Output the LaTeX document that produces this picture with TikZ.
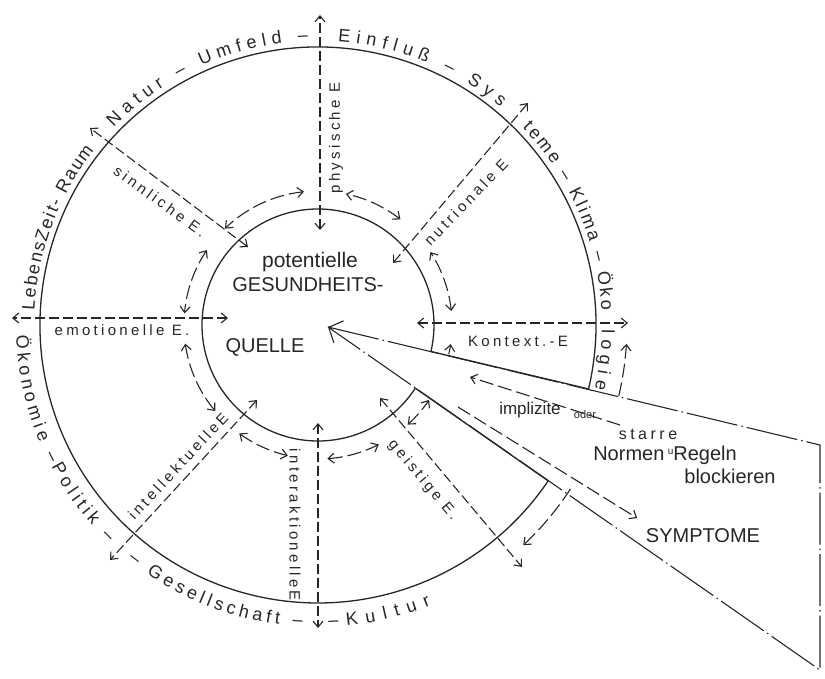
\documentclass[tikz,border=0pt]{standalone}
\usepackage{fontspec}
\setmainfont{Liberation Sans}
\newfontfamily\handfont[LetterSpace=22]{Liberation Sans}
\usetikzlibrary{arrows.meta,decorations.text,calc}
\definecolor{ink}{HTML}{262626}
\newcommand\ringfont{\fontsize{18}{18}\selectfont}

\tikzset{
  barb/.tip={Straight Barb[length=6pt,width=10pt]},
  ring/.style={draw=ink, line width=1.3pt},
  spoke/.style={draw=ink, line width=1.1pt, dash pattern=on 10pt off 4pt, barb-barb},
  flow/.style={draw=ink, line width=1.1pt, dash pattern=on 14pt off 5pt},
  block/.style={draw=ink, line width=1.1pt, dash pattern=on 52pt off 4pt on 1.5pt off 4pt},
  lbl/.style={font=\handfont\fontsize{15}{15}\selectfont, text=ink, inner sep=1pt},
  say/.style={font=\fontsize{20}{20}\selectfont, text=ink, inner sep=1pt},
  ringtext/.style={decorate, decoration={text along path, text align={fit to path}, text color=ink}},
}

\begin{document}
\begin{tikzpicture}[x=1pt,y=1pt]
  \useasboundingbox (-318,-353) rectangle (507,325);

  % circles, open where the wedge cuts through
  \draw[ring] (-13.2:116) arc[start angle=-13.2, end angle=327, radius=116];
  \draw[ring] (-13.3:278) arc[start angle=-13.3, end angle=325.9, radius=278];
  \draw[ring] (-13.2:116) -- (-13.3:278);
  \draw[ring] (-33:116) -- (-34.1:278);

  % spokes
  \foreach \xa/\ya/\xb/\yb in {2/95/2/310, -70/78/-228/197, -90/7/-306/7,
      -61/-75/-208/-235, 0/-98/0/-303, 62/-73/204/-242, 99/2/310/2, 75/62/210/222}
    \draw[spoke] (\xa,\ya) -- (\xb,\yb);

  % exchange between neighbouring spokes
  \foreach \a/\b in {96/134, 52/78, 6/33, 146/175, 188/220, 234/257, 274/297, 312/326}
    \draw[flow, barb-barb] (\a:134) arc[start angle=\a, end angle=\b, radius=134];
  \draw[flow, -barb] (-12.6:134) arc[start angle=-12.6, end angle=-8.2, radius=134];

  % wedge of blocking norms
  \coordinate (apex) at (10,-2);
  \coordinate (wedge top) at (502,-120);
  \coordinate (wedge bottom) at (502,-345);
  \draw[block] (apex) -- (wedge top) -- (wedge bottom) -- cycle;
  \draw[draw=ink, line width=1.1pt, -{Straight Barb[length=11pt,width=24pt]}] ($(apex)+(-24:1)$) -- (apex);
  \draw[flow, -barb] (-13.3:309) arc[start angle=-13.3, end angle=-3.5, radius=309];
  \draw[flow, -barb] (-33:301) arc[start angle=-33, end angle=-47, radius=301];
  \coordinate (norm tail) at (302,-100);
  \coordinate (norm head) at (152,-52);
  \draw[flow, -barb] (norm tail) -- (norm head);
  \coordinate (symptom tail) at (140,-82);
  \coordinate (symptom head) at (319,-193);
  \draw[flow, -barb] (symptom tail) -- (symptom head);

  % spoke labels
  \node[lbl, rotate=90] (physische) at (18,187) {physische E};
  \node[lbl, rotate=-36] (sinnliche) at (-158,124) {sinnliche E.};
  \node[lbl, rotate=46] (nutrionale) at (148,123) {nutrionale E};
  \node[lbl] (emotionelle) at (-196,-5) {emotionelle E.};
  \node[lbl] (kontext) at (200,-16) {Kontext.-E};
  \node[lbl, rotate=47] (intellektuelle) at (-140,-141) {intellektuelleE};
  \node[lbl, rotate=-90] (interaktionelle) at (-23,-200) {interaktionelleE};
  \node[lbl, rotate=-50] (geistige) at (105,-155) {geistige E.};

  % source
  \node[say, font=\fontsize{21}{21}\selectfont] (potentielle) at (-8,63) {potentielle};
  \node[say] (gesundheits) at (-10,40) {GESUNDHEITS-};
  \node[say] (quelle) at (-53,-22) {QUELLE};

  % norms and symptoms
  \node[say, font=\fontsize{17}{17}\selectfont] (implizite) at (212,-85) {implizite};
  \node[say, font=\fontsize{11}{11}\selectfont] (oder) at (267,-90) {oder};
  \node[say, font=\handfont\fontsize{16}{16}\selectfont] (starre) at (330,-109) {starre};
  \node[say] (normen) at (347,-130) {Normen\,\raisebox{6pt}{\fontsize{10}{10}\selectfont u}Regeln};
  \node[say] (blockieren) at (412,-151) {blockieren};
  \node[say] (symptome) at (385,-211) {SYMPTOME};

  % environment, written round the outer circle
  \path[ringtext, decoration={text={|\ringfont|LebensZeit- Raum}}] (177:284) arc[start angle=177, end angle=142, radius=284];
  \path[ringtext, decoration={text={|\ringfont|Natur – Umfeld –}}] (136:284) arc[start angle=136, end angle=92, radius=284];
  \path[ringtext, decoration={text={|\ringfont|Einfluß – Sys}}] (86:284) arc[start angle=86, end angle=50, radius=284];
  \path[ringtext, decoration={text={|\ringfont|teme – Klima – Öko}}] (44:284) arc[start angle=44, end angle=3, radius=284];
  \path[ringtext, decoration={text={|\ringfont|logie}}] (-1:284) arc[start angle=-1, end angle=-13, radius=284];
  \path[ringtext, decoration={text={|\ringfont|Ökonomie –Politik –}}] (182:302) arc[start angle=182, end angle=226, radius=302];
  \path[ringtext, decoration={text={|\ringfont|– Gesellschaft –}}] (231:302) arc[start angle=231, end angle=267, radius=302];
  \path[ringtext, decoration={text={|\ringfont|–Kultur}}] (272:302) arc[start angle=272, end angle=292, radius=302];
\end{tikzpicture}
\end{document}
